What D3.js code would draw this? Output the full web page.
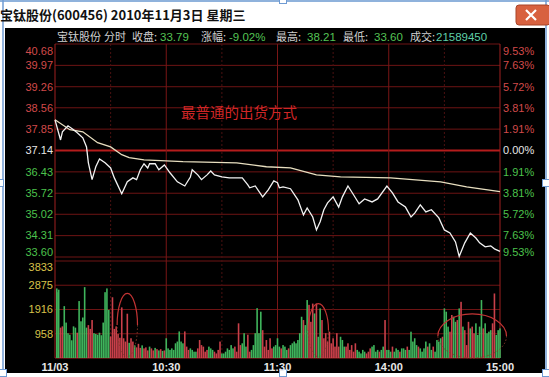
<!DOCTYPE html>
<meta charset='utf-8'>
<style>
    body {
        margin: 0;
        background: #fff;
    }
    svg {
        display: block;
    }
    text {
        font-family: 'Liberation Sans', Arial, sans-serif;
    }
    .cjk {
        font-family: 'Noto Sans CJK SC', sans-serif;
    }
</style>
<body>
<div id='chart'></div>
<script src='https://d3js.org/d3.v7.min.js'></script>
<script>
    // axis labels
    const priceTicks = [ 40.68, 39.97, 39.26, 38.56, 37.85, 37.14, 36.43, 35.72, 35.02, 34.31, 33.60 ];
    const pctTicks = [ '9.53%', '7.63%', '5.72%', '3.81%', '1.91%', '0.00%', '1.91%', '3.81%', '5.72%', '7.63%', '9.53%' ];
    const volTicks = [ 958, 1916, 2875, 3833 ];
    const timeTicks = [ 0, 60, 120, 180, 240 ];
    const timeLabels = [ '11/03', '10:30', '11:30', '14:00', '15:00' ];
    const preClose = 37.14;

    // header quote
    const quoteLabels = [ '宝钛股份', '分时', '收盘:', '涨幅:', '最高:', '最低:', '成交:' ];
    const quoteValues = [ '33.79', '-9.02%', '38.21', '33.60', '21589450' ];

    // minute price line (minute from 9:30, price)
    const priceMinutes = [ 0, 3, 4, 7, 10, 12, 15, 17, 18, 20, 22, 24, 27, 30, 32, 36, 39, 42, 44, 46, 48, 50, 51, 54, 56, 59,
        62, 66, 70, 73, 74, 77, 79, 82, 84, 86, 90, 94, 101, 104, 105, 108, 112, 115, 118, 120, 121, 123, 127, 131, 134, 136,
        139, 141, 143, 145, 147, 150, 153, 155, 158, 161, 164, 167, 171, 174, 179, 182, 185, 189, 192, 194, 197, 200, 203,
        207, 210, 213, 216, 218, 221, 224, 227, 229, 232, 235, 237, 240 ];
    const prices = [ 38.16, 37.49, 37.76, 37.96, 37.83, 37.73, 37.56, 37.26, 36.73, 36.17, 36.60, 36.86, 36.73, 36.56, 36.23,
        35.70, 36.10, 36.23, 36.17, 36.50, 36.70, 36.56, 36.70, 36.70, 36.50, 36.66, 36.40, 36.10, 35.96, 36.26, 36.50, 36.33,
        36.17, 36.33, 36.46, 36.33, 36.26, 36.23, 36.23, 36.00, 35.90, 35.96, 35.60, 35.83, 36.13, 36.07, 35.90, 35.93, 35.87,
        35.50, 35.00, 35.23, 34.93, 34.50, 34.77, 35.17, 35.40, 35.60, 35.26, 35.60, 35.96, 35.67, 35.37, 35.53, 35.43, 35.53,
        35.96, 35.73, 35.43, 35.26, 34.93, 35.06, 35.33, 35.10, 35.17, 34.90, 34.50, 34.40, 34.10, 33.62, 34.07, 34.40, 34.23,
        34.07, 33.94, 33.97, 33.87, 33.79 ];

    // average price line
    const avgMinutes = [ 0, 8, 15, 23, 30, 36, 40, 48, 69, 98, 114, 127, 141, 154, 181, 208, 222, 240 ];
    const avgPrices = [ 38.16, 37.83, 37.76, 37.40, 37.26, 37.00, 36.90, 36.83, 36.77, 36.73, 36.60, 36.56, 36.33, 36.26,
        36.23, 36.10, 35.93, 35.77 ];

    // minute volume (hands) and direction (1 up / 0 down)
    const volumes = [
        2750, 2600, 2700, 1200, 1250, 2050, 1400, 980, 920, 700, 1250, 1200, 1000, 2250, 1450, 1600, 2800, 1200, 1300, 1150,
        1500, 980, 950, 920, 1000, 900, 1400, 2600, 2750, 1900, 850, 2400, 1150, 1250, 950, 800, 2000, 780, 650, 1750,
        600, 780, 650, 500, 420, 560, 400, 500, 380, 420, 300, 450, 380, 300, 400, 350, 300, 350, 280, 300,
        780, 380, 320, 380, 320, 580, 650, 1050, 650, 580, 1050, 450, 320, 380, 320, 250, 250, 380, 710, 510,
        450, 250, 320, 450, 380, 320, 250, 180, 320, 650, 180, 180, 250, 380, 320, 510, 380, 450, 250, 1370,
        510, 580, 980, 450, 920, 250, 320, 510, 980, 1970, 980, 1830, 1100, 450, 710, 320, 780, 380, 450, 510,
        780, 450, 380, 510, 450, 320, 380, 510, 580, 650, 580, 710, 980, 1630, 1500, 1300, 2290, 2100, 1430, 2150,
        1760, 2150, 840, 1960, 1500, 780, 980, 650, 1040, 580, 780, 450, 980, 450, 840, 710, 450, 450, 580, 320,
        510, 250, 580, 320, 250, 180, 320, 250, 180, 250, 380, 450, 510, 250, 320, 250, 320, 450, 1500, 320,
        320, 250, 450, 250, 380, 320, 250, 380, 380, 320, 450, 320, 1040, 650, 780, 510, 450, 380, 250, 380,
        650, 450, 580, 320, 450, 250, 710, 650, 780, 840, 1960, 1830, 1240, 1040, 1700, 1630, 1430, 1500, 1960, 2220,
        1240, 1100, 510, 1430, 1170, 1240, 975, 1370, 910, 1240, 2290, 1170, 1370, 975, 1040, 1100, 1370, 2550, 910, 1100, 1170
    ];
    const volUp = [
        0, 0, 0, 1, 1, 0, 0, 0, 0, 0, 0, 0, 1, 0, 0, 0, 0, 0, 1, 1,
        1, 0, 0, 0, 0, 0, 0, 0, 0, 0, 1, 1, 1, 1, 1, 1, 1, 1, 1, 1,
        0, 1, 1, 0, 1, 1, 1, 0, 1, 1, 1, 0, 1, 1, 0, 1, 0, 1, 0, 1,
        0, 0, 0, 0, 0, 0, 0, 0, 0, 0, 1, 1, 1, 0, 0, 0, 0, 1, 1, 1,
        1, 1, 1, 0, 0, 0, 1, 1, 1, 1, 0, 0, 0, 0, 0, 0, 0, 1, 1, 1,
        1, 0, 0, 0, 1, 1, 0, 0, 0, 0, 0, 0, 1, 1, 1, 1, 1, 1, 0, 0,
        0, 0, 1, 0, 0, 0, 1, 0, 0, 0, 0, 0, 0, 0, 1, 0, 0, 1, 1, 1,
        0, 1, 0, 0, 1, 1, 1, 1, 1, 1, 1, 1, 1, 1, 0, 0, 0, 1, 1, 1,
        1, 1, 1, 0, 0, 0, 0, 0, 1, 1, 1, 0, 0, 0, 0, 1, 0, 0, 1, 0,
        0, 0, 1, 0, 0, 0, 1, 0, 0, 0, 1, 0, 0, 0, 0, 0, 1, 0, 0, 0,
        0, 1, 0, 0, 1, 0, 0, 0, 0, 1, 0, 0, 0, 1, 1, 0, 0, 1, 0, 1,
        0, 1, 1, 1, 0, 1, 1, 0, 0, 0, 0, 1, 0, 0, 0, 0, 1, 1, 0, 0, 0
    ];

    // hand drawn rings on the volume panel (centre minute / volume, radii)
    const ringMinutes = [ 39, 142, 225 ];
    const ringVolumes = [ 1300, 1100, 870 ];
    const ringMinuteRadius = [ 5.5, 5.5, 18.5 ];
    const ringVolumeRadius = [ 1250, 1050, 870 ];

    const note = '最普通的出货方式';
    const noteMinute = 68, notePrice = 38.22;

    const W = 549, H = 377;
    const plot = { left: 55, right: 500, top: 44, bottom: 257, volTop: 261, volBottom: 358 };

    const red = '#d24a4a', green = '#4cc24c', gridRed = '#6e1414';

    const x = d3.scaleLinear().domain( [ 0, 240 ] ).range( [ plot.left, plot.right ] );
    const y = d3.scaleLinear().domain( [ 33.60, 40.68 ] ).range( [ plot.bottom, plot.top ] );
    const yVol = d3.scaleLinear().domain( [ 0, 3833 ] ).range( [ plot.volBottom, plot.volTop ] );

    const svg = d3.select( '#chart' )
        .append( 'svg' )
        .attr( 'width', W )
        .attr( 'height', H );

    // window chrome
    svg.append( 'rect' ).attr( 'width', W ).attr( 'height', H ).attr( 'fill', '#fff' );
    svg.append( 'rect' ).attr( 'x', 0 ).attr( 'y', 0 ).attr( 'width', W ).attr( 'height', 2 ).attr( 'fill', '#8fb2dc' );
    svg.append( 'rect' )
        .attr( 'x', 5 ).attr( 'y', 28 )
        .attr( 'width', 540 ).attr( 'height', 345 )
        .attr( 'fill', '#000' );
    svg.append( 'line' ).attr( 'x1', 3 ).attr( 'x2', 3 ).attr( 'y1', 0 ).attr( 'y2', 373 )
        .attr( 'stroke', '#6f9bd3' ).attr( 'stroke-width', 1.5 );
    svg.append( 'line' ).attr( 'x1', 546 ).attr( 'x2', 546 ).attr( 'y1', 0 ).attr( 'y2', 373 )
        .attr( 'stroke', '#6f9bd3' ).attr( 'stroke-width', 1.5 );

    svg.append( 'text' )
        .attr( 'class', 'cjk' )
        .attr( 'x', 0 ).attr( 'y', 20 )
        .style( 'font-size', '13px' ).style( 'font-weight', 'bold' )
        .attr( 'fill', '#111' )
        .text( '宝钛股份(600456) 2010年11月3日 星期三' );

    // close button
    svg.append( 'rect' )
        .attr( 'x', 516 ).attr( 'y', 5 ).attr( 'width', 34 ).attr( 'height', 20 ).attr( 'rx', 3 )
        .attr( 'fill', '#d8613f' ).attr( 'stroke', '#a84428' );
    svg.append( 'path' )
        .attr( 'd', 'M526,10L536,20M536,10L526,20' )
        .attr( 'stroke', '#fff' ).attr( 'stroke-width', 2.2 );

    // selection handles
    const handles = [ [ 283, 0 ], [ 0, 183 ], [ 546, 183 ], [ 3, 373 ], [ 283, 373 ], [ 546, 373 ] ];
    svg.selectAll( '.handle' )
        .data( handles )
        .enter().append( 'rect' )
            .attr( 'class', 'handle' )
            .attr( 'x', d => d[0] - 3.5 ).attr( 'y', d => d[1] - 3.5 )
            .attr( 'width', 7 ).attr( 'height', 7 )
            .attr( 'fill', '#fff' ).attr( 'stroke', '#6f9bd3' );

    // header quote line
    const labelX = [ 57, 104, 132, 201, 276, 343, 410 ];
    const valueX = [ 160, 229, 307, 374, 436 ];
    svg.selectAll( '.qlabel' )
        .data( quoteLabels )
        .enter().append( 'text' )
            .attr( 'class', 'qlabel cjk' )
            .attr( 'x', ( d, i ) => labelX[i] ).attr( 'y', 41 )
            .style( 'font-size', '11px' )
            .attr( 'fill', '#cfcfcf' )
            .text( d => d );
    svg.selectAll( '.qvalue' )
        .data( quoteValues )
        .enter().append( 'text' )
            .attr( 'class', 'qvalue' )
            .attr( 'x', ( d, i ) => valueX[i] ).attr( 'y', 41 )
            .style( 'font-size', '11.5px' )
            .attr( 'fill', ( d, i ) => i === 4 ? '#5fcfa8' : '#55c455' )
            .text( d => d );

    // price grid
    const grid = svg.append( 'g' );
    grid.selectAll( '.hline' )
        .data( priceTicks )
        .enter().append( 'line' )
            .attr( 'x1', plot.left ).attr( 'x2', plot.right )
            .attr( 'y1', d => y( d ) ).attr( 'y2', d => y( d ) )
            .attr( 'stroke', d => d === preClose ? '#b51c1c' : gridRed )
            .attr( 'stroke-width', d => d === preClose ? 2 : 1 );
    grid.selectAll( '.vline' )
        .data( volTicks )
        .enter().append( 'line' )
            .attr( 'x1', plot.left ).attr( 'x2', plot.right )
            .attr( 'y1', d => yVol( d ) ).attr( 'y2', d => yVol( d ) )
            .attr( 'stroke', gridRed );
    const halfHours = d3.range( 30, 240, 30 );
    grid.selectAll( '.tline' )
        .data( halfHours )
        .enter().append( 'line' )
            .attr( 'x1', d => x( d ) ).attr( 'x2', d => x( d ) )
            .attr( 'y1', plot.top ).attr( 'y2', plot.volBottom )
            .attr( 'stroke', d => d % 60 === 0 ? '#7a1616' : '#4a1010' )
            .attr( 'stroke-dasharray', d => d % 60 === 0 ? null : '2,2' );
    [ plot.left, plot.right ].forEach( px => {
        grid.append( 'line' )
            .attr( 'x1', px ).attr( 'x2', px )
            .attr( 'y1', plot.top ).attr( 'y2', plot.volBottom )
            .attr( 'stroke', '#a02020' );
    } );
    grid.append( 'line' )
        .attr( 'x1', plot.left ).attr( 'x2', plot.right )
        .attr( 'y1', plot.volBottom ).attr( 'y2', plot.volBottom )
        .attr( 'stroke', '#a02020' );

    const tickColor = d => d > preClose ? red : ( d < preClose ? green : '#e6e6e6' );
    const clampY = v => Math.max( plot.top + 7, Math.min( plot.bottom - 5, y( v ) ) );

    // left price labels
    svg.selectAll( '.plabel' )
        .data( priceTicks )
        .enter().append( 'text' )
            .attr( 'x', plot.left - 2 )
            .attr( 'y', d => clampY( d ) )
            .attr( 'dy', '0.35em' )
            .attr( 'text-anchor', 'end' )
            .style( 'font-size', '11px' )
            .attr( 'fill', tickColor )
            .text( d => d.toFixed( 2 ) );

    // right percent labels
    svg.selectAll( '.rlabel' )
        .data( pctTicks )
        .enter().append( 'text' )
            .attr( 'x', plot.right + 3 )
            .attr( 'y', ( d, i ) => clampY( priceTicks[i] ) )
            .attr( 'dy', '0.35em' )
            .style( 'font-size', '11px' )
            .attr( 'fill', ( d, i ) => tickColor( priceTicks[i] ) )
            .text( d => d );

    // volume labels
    svg.selectAll( '.vlabel' )
        .data( volTicks )
        .enter().append( 'text' )
            .attr( 'x', plot.left - 2 )
            .attr( 'y', d => Math.max( plot.volTop + 6, yVol( d ) ) )
            .attr( 'dy', '0.35em' )
            .attr( 'text-anchor', 'end' )
            .style( 'font-size', '11px' )
            .attr( 'fill', '#d8c24a' )
            .text( d => d );

    // time labels
    svg.selectAll( '.tlabel' )
        .data( timeTicks )
        .enter().append( 'text' )
            .attr( 'x', d => x( d ) )
            .attr( 'y', 371 )
            .attr( 'text-anchor', 'middle' )
            .style( 'font-size', '11px' )
            .style( 'font-weight', 'bold' )
            .attr( 'fill', '#e8e8e8' )
            .text( ( d, i ) => timeLabels[i] );

    // volume bars
    svg.append( 'g' )
        .selectAll( 'rect' )
        .data( volumes )
        .enter().append( 'rect' )
            .attr( 'x', ( d, i ) => Math.max( plot.left + 1, x( i ) - 0.8 ) )
            .attr( 'y', d => yVol( d ) )
            .attr( 'width', 1.6 )
            .attr( 'height', d => yVol( 0 ) - yVol( d ) )
            .attr( 'fill', ( d, i ) => volUp[i] ? '#c9404a' : '#3fb45c' );

    // rings
    const ringPath = ( i, top ) => {
        const cx = x( ringMinutes[i] ), cy = yVol( ringVolumes[i] );
        const rx = x( ringMinuteRadius[i] ) - x( 0 ), ry = yVol( 0 ) - yVol( ringVolumeRadius[i] );
        return top
            ? `M${cx - rx},${cy}A${rx},${ry} 0 0 1 ${cx + rx},${cy}`
            : `M${cx + rx},${cy}A${rx},${ry} 0 0 1 ${cx - rx},${cy}`;
    };
    ringMinutes.forEach( ( m, i ) => {
        svg.append( 'path' ).attr( 'd', ringPath( i, true ) )
            .attr( 'fill', 'none' ).attr( 'stroke', '#c23434' ).attr( 'stroke-width', 1.2 );
        svg.append( 'path' ).attr( 'd', ringPath( i, false ) )
            .attr( 'fill', 'none' ).attr( 'stroke', '#8a3a2a' ).attr( 'stroke-width', 1 )
            .attr( 'stroke-dasharray', '1.5,2' );
    } );

    // price lines
    const line = d3.line()
        .x( d => x( d[0] ) )
        .y( d => y( d[1] ) );

    svg.append( 'path' )
        .datum( avgMinutes.map( ( m, i ) => [ m, avgPrices[i] ] ) )
        .attr( 'd', line )
        .attr( 'fill', 'none' )
        .attr( 'stroke', '#e8dfc0' )
        .attr( 'stroke-width', 1.3 );

    svg.append( 'path' )
        .datum( priceMinutes.map( ( m, i ) => [ m, prices[i] ] ) )
        .attr( 'd', line )
        .attr( 'fill', 'none' )
        .attr( 'stroke', '#f2f2f2' )
        .attr( 'stroke-width', 1.3 );

    // annotation
    svg.append( 'text' )
        .attr( 'class', 'cjk' )
        .attr( 'x', x( noteMinute ) )
        .attr( 'y', y( notePrice ) )
        .style( 'font-size', '14.5px' )
        .attr( 'fill', '#d02626' )
        .text( note );
</script>
</body>
